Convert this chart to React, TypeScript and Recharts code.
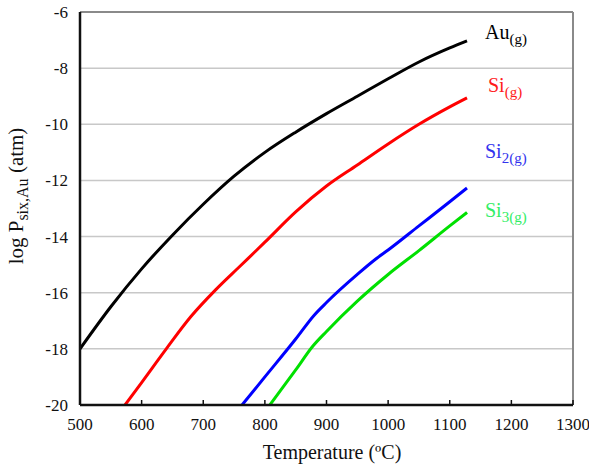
import { CartesianGrid, Line, LineChart, ReferenceLine, XAxis, YAxis } from 'recharts';

const TEMP_TICKS = [500, 600, 700, 800, 900, 1000, 1100, 1200, 1300];
const LOGP_TICKS = [-20, -18, -16, -14, -12, -10, -8, -6];

// Au(g)
const auTemp = [500, 550, 600, 650, 700, 750, 800, 850, 900, 950, 1000, 1050, 1100, 1128];
const auLogP = [-18.0, -16.5, -15.15, -13.95, -12.85, -11.85, -11.0, -10.28, -9.62, -9.0, -8.38, -7.78, -7.28, -7.03];

// Si(g)
const siTemp = [573, 600, 640, 680, 720, 760, 800, 850, 900, 950, 1000, 1050, 1100, 1128];
const siLogP = [-20, -19.2, -18.0, -16.85, -15.9, -15.05, -14.2, -13.12, -12.2, -11.45, -10.7, -10.0, -9.38, -9.06];

// Si2(g)
const si2Temp = [763, 800, 850, 880, 900, 950, 980, 1000, 1050, 1100, 1128];
const si2LogP = [-20, -19.0, -17.65, -16.8, -16.35, -15.35, -14.8, -14.48, -13.62, -12.76, -12.27];

// Si3(g)
const si3Temp = [808, 850, 878, 900, 950, 1000, 1050, 1100, 1128];
const si3LogP = [-20, -18.75, -17.9, -17.38, -16.3, -15.35, -14.5, -13.62, -13.14];

const toPoints = (temps: number[], vals: number[]) => temps.map((t, i) => ({ t, v: vals[i] }));

const SERIF = '"Liberation Serif", "Times New Roman", serif';

function XTick({ x, y, payload }: any) {
  return (
    <text x={x} y={y} dy={12} textAnchor="middle" style={{ fontFamily: SERIF, fontSize: 17 }} fill="#111">
      {payload.value}
    </text>
  );
}

function YTick({ x, y, payload }: any) {
  return (
    <text x={x} y={y} dy={6} textAnchor="end" style={{ fontFamily: SERIF, fontSize: 17 }} fill="#111">
      {payload.value}
    </text>
  );
}

function Species({ name, sub, color, left, top }: { name: string; sub: string; color: string; left: number; top: number }) {
  return (
    <div style={{ position: 'absolute', left, top, fontFamily: SERIF, fontSize: 20, color, lineHeight: 1 }}>
      {name}
      <sub style={{ fontSize: 15, verticalAlign: -5 }}>{sub}</sub>
    </div>
  );
}

export default function App() {
  return (
    <div style={{ position: 'absolute', left: 0, top: 0, width: 589, height: 464, background: '#fff' }}>
      <LineChart width={589} height={464} margin={{ top: 12, right: 16, left: 0, bottom: 0 }}>
        <CartesianGrid vertical={false} stroke="#c8c8c8" strokeWidth={1.5} />
        <XAxis
          dataKey="t"
          type="number"
          domain={[500, 1300]}
          ticks={TEMP_TICKS}
          allowDataOverflow
          height={59}
          tick={<XTick />}
          tickSize={-5}
          tickMargin={18}
          axisLine={{ stroke: '#111', strokeWidth: 2.5 }}
          tickLine={{ stroke: '#111', strokeWidth: 1.5 }}
        />
        <YAxis
          type="number"
          domain={[-20, -6]}
          ticks={LOGP_TICKS}
          allowDataOverflow
          width={80}
          tick={<YTick />}
          tickSize={0}
          tickMargin={12}
          axisLine={{ stroke: '#111', strokeWidth: 2.5 }}
          tickLine={false}
        />
        <ReferenceLine y={-6} stroke="#8a8a8a" strokeWidth={2} />
        <ReferenceLine x={1300} stroke="#8a8a8a" strokeWidth={2} />
        <Line data={toPoints(auTemp, auLogP)} dataKey="v" stroke="#000" strokeWidth={3} dot={false} type="monotone" isAnimationActive={false} />
        <Line data={toPoints(siTemp, siLogP)} dataKey="v" stroke="#ff0000" strokeWidth={3} dot={false} type="monotone" isAnimationActive={false} />
        <Line data={toPoints(si2Temp, si2LogP)} dataKey="v" stroke="#0000ff" strokeWidth={3} dot={false} type="monotone" isAnimationActive={false} />
        <Line data={toPoints(si3Temp, si3LogP)} dataKey="v" stroke="#00e000" strokeWidth={3} dot={false} type="monotone" isAnimationActive={false} />
      </LineChart>

      <Species name="Au" sub="(g)" color="#000" left={485} top={22} />
      <Species name="Si" sub="(g)" color="#ff1a1a" left={488} top={75} />
      <Species name="Si" sub="2(g)" color="#3333ee" left={485} top={141} />
      <Species name="Si" sub="3(g)" color="#33ee66" left={485} top={200} />

      <div
        style={{
          position: 'absolute',
          left: 332,
          top: 452,
          transform: 'translate(-50%, -50%)',
          fontFamily: SERIF,
          fontSize: 20,
          color: '#111',
          whiteSpace: 'nowrap',
        }}
      >
        Temperature (ºC)
      </div>
      <div
        style={{
          position: 'absolute',
          left: 18,
          top: 196,
          transform: 'translate(-50%, -50%) rotate(-90deg)',
          fontFamily: SERIF,
          fontSize: 21,
          color: '#111',
          whiteSpace: 'nowrap',
        }}
      >
        log P<sub style={{ fontSize: 16, verticalAlign: -5 }}>six,Au</sub> (atm)
      </div>
    </div>
  );
}
